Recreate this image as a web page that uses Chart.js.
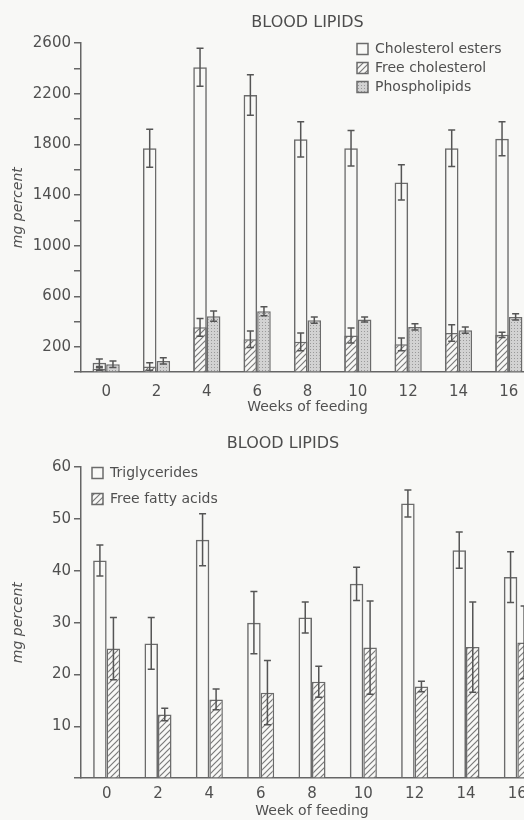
<!DOCTYPE html>
<html>
<head>
<meta charset="utf-8">
<script src="https://cdn.jsdelivr.net/npm/chart.js@4"></script>
<style>
body { margin: 0; background: #f8f8f6; }
.box { position: absolute; left: 0; width: 524px; overflow: hidden; }
</style>
</head>
<body>
<div class="box" style="top:0;height:420px"><canvas id="lipids" width="560" height="420"></canvas></div>
<div class="box" style="top:420px;height:400px"><canvas id="fats" width="570" height="400"></canvas></div>
<script>
// weeks of feeding
const weeks = ['0', '2', '4', '6', '8', '10', '12', '14', '16'];

// upper panel, mg percent
const esters = [75, 1770, 2410, 2190, 1840, 1770, 1500, 1770, 1845];
const estersErr = [30, 150, 150, 160, 140, 140, 140, 145, 135];
const freeChol = [25, 45, 355, 260, 240, 290, 220, 310, 295];
const freeCholErr = [10, 30, 70, 65, 70, 60, 50, 65, 20];
const phospho = [63, 89, 443, 482, 411, 417, 358, 332, 437];
const phosphoErr = [25, 25, 40, 35, 25, 20, 25, 25, 25];

// lower panel, mg percent
const trig = [42, 26, 46, 30, 31, 37.5, 53, 44, 38.8];
const trigErr = [3, 5, 5, 6, 3, 3.2, 2.6, 3.5, 4.9];
const ffa = [25, 12.3, 15.2, 16.5, 18.6, 25.2, 17.7, 25.3, 26.2];
const ffaErr = [6, 1.2, 2, 6.2, 3, 9, 1, 8.7, 7];

Chart.defaults.font.family = '"DejaVu Sans", sans-serif';
Chart.defaults.color = '#505050';

function hatch() {
    var c = document.createElement('canvas');
    c.width = 6; c.height = 6;
    var g = c.getContext('2d');
    g.fillStyle = '#f8f8f6';
    g.fillRect(0, 0, 6, 6);
    g.strokeStyle = '#7a7a7a';
    g.lineWidth = 1.2;
    g.beginPath();
    g.moveTo(0, 6); g.lineTo(6, 0);
    g.moveTo(-1, 1); g.lineTo(1, -1);
    g.moveTo(5, 7); g.lineTo(7, 5);
    g.stroke();
    return g.createPattern(c, 'repeat');
}
function stipple() {
    var c = document.createElement('canvas');
    c.width = 3; c.height = 3;
    var g = c.getContext('2d');
    g.fillStyle = '#d2d2d2';
    g.fillRect(0, 0, 3, 3);
    g.fillStyle = '#999';
    g.fillRect(1, 1, 1, 1);
    return g.createPattern(c, 'repeat');
}

// +/- error bars with caps
const errorBars = {
    id: 'errorBars',
    afterDatasetsDraw(chart) {
        const ctx = chart.ctx, y = chart.scales.y;
        ctx.save();
        ctx.strokeStyle = '#555';
        ctx.lineWidth = 1.5;
        chart.data.datasets.forEach(function (ds, i) {
            if (!ds.errors) return;
            chart.getDatasetMeta(i).data.forEach(function (bar, j) {
                var v = ds.data[j], e = ds.errors[j];
                var top = y.getPixelForValue(v + e), bot = y.getPixelForValue(v - e);
                ctx.beginPath();
                ctx.moveTo(bar.x, top); ctx.lineTo(bar.x, bot);
                ctx.moveTo(bar.x - 3.5, top); ctx.lineTo(bar.x + 3.5, top);
                ctx.moveTo(bar.x - 3.5, bot); ctx.lineTo(bar.x + 3.5, bot);
                ctx.stroke();
            });
        });
        ctx.restore();
    }
};

// move legend / title where the figure has them
const nudge = {
    id: 'nudge',
    afterLayout(chart, args, opts) {
        chart.legend.left = opts.legendX;
        chart.legend.top = opts.legendY;
        if (opts.titleX) {
            chart.titleBlock.left = opts.titleX - 100;
            chart.titleBlock.right = opts.titleX + 100;
        }
    }
};

function yAxis(max, step, showLabel) {
    return {
        stacked: false,
        min: 0,
        max: max,
        afterFit: function (scale) { scale.width = 81; },
        ticks: {
            stepSize: step,
            padding: 3,
            font: { size: 15 },
            callback: function (v) { return showLabel(v) ? v : ''; }
        },
        grid: { drawOnChartArea: false, tickLength: 7, color: '#666', lineWidth: 1.5 },
        border: { color: '#666', width: 1.5 },
        title: { display: true, text: 'mg percent', font: { size: 14, style: 'italic' }, padding: { top: 10, bottom: 0 } }
    };
}
function xAxis(title, tickPad, titlePad) {
    return {
        stacked: true,
        grid: { display: false, drawTicks: false },
        border: { color: '#666', width: 1.5 },
        ticks: { padding: tickPad, font: { size: 15 } },
        title: { display: true, text: title, font: { size: 14 }, padding: titlePad }
    };
}
function legendOpts(pad) {
    return {
        position: 'chartArea',
        align: 'start',
        labels: { boxWidth: 11, boxHeight: 11, padding: pad, font: { size: 14 }, color: '#505050' }
    };
}

new Chart(document.getElementById('lipids'), {
    type: 'bar',
    data: {
        labels: weeks,
        datasets: [
            { label: 'Cholesterol esters', data: esters, errors: estersErr, stack: 'a',
              backgroundColor: 'rgba(0,0,0,0)', borderColor: '#6b6b6b', borderWidth: 1.5 },
            { label: 'Free cholesterol', data: freeChol, errors: freeCholErr, stack: 'a',
              backgroundColor: hatch(), borderColor: '#6b6b6b', borderWidth: 1.5 },
            { label: 'Phospholipids', data: phospho, errors: phosphoErr, stack: 'b',
              backgroundColor: stipple(), borderColor: '#6b6b6b', borderWidth: 1.5 }
        ]
    },
    options: {
        responsive: false,
        animation: false,
        datasets: { bar: { categoryPercentage: 0.54, barPercentage: 1 } },
        layout: { padding: { left: 0, right: 26, top: 0, bottom: 0 } },
        plugins: {
            title: { display: true, text: 'BLOOD LIPIDS', fullSize: false, color: '#4d4d4d',
                     font: { size: 16, weight: 'normal' }, padding: { top: 13, bottom: 11 } },
            legend: legendOpts(5),
            tooltip: { enabled: false },
            nudge: { legendX: 352, legendY: 37 }
        },
        scales: {
            x: xAxis('Weeks of feeding', 11, { top: -13, bottom: 4 }),
            y: yAxis(2600, 200, function (v) { return v % 400 === 200; })
        }
    },
    plugins: [errorBars, nudge]
});

new Chart(document.getElementById('fats'), {
    type: 'bar',
    data: {
        labels: weeks,
        datasets: [
            { label: 'Triglycerides', data: trig, errors: trigErr, stack: 'a',
              backgroundColor: 'rgba(0,0,0,0)', borderColor: '#6b6b6b', borderWidth: 1.5 },
            { label: 'Free fatty acids', data: ffa, errors: ffaErr, stack: 'b',
              backgroundColor: hatch(), borderColor: '#6b6b6b', borderWidth: 1.5 }
        ]
    },
    options: {
        responsive: false,
        animation: false,
        datasets: { bar: { categoryPercentage: 0.527, barPercentage: 1 } },
        layout: { padding: { left: 0, right: 27, top: 0, bottom: 0 } },
        plugins: {
            title: { display: true, text: 'BLOOD LIPIDS', fullSize: false, color: '#4d4d4d',
                     font: { size: 16, weight: 'normal' }, padding: { top: 14, bottom: 14 } },
            legend: legendOpts(12),
            tooltip: { enabled: false },
            nudge: { legendX: 80, legendY: 34, titleX: 283 }
        },
        scales: {
            x: xAxis('Week of feeding', 7, { top: -7, bottom: 0 }),
            y: yAxis(60, 10, function (v) { return v > 0; })
        }
    },
    plugins: [errorBars, nudge]
});
</script>
</body>
</html>
